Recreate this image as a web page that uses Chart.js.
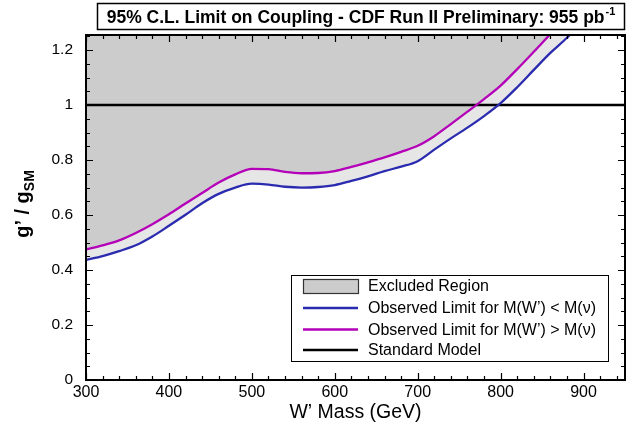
<!DOCTYPE html>
<html><head><meta charset="utf-8">
<script src="https://cdn.jsdelivr.net/npm/chart.js@4"></script>
<style>html,body{margin:0;padding:0;background:#fff;}#wrap{width:632px;height:427px;}</style>
</head><body><div id="wrap"><canvas id="c" width="632" height="427"></canvas></div>
<script>
// ---- data ----
const massGeV = [300,320,340,360,380,400,420,440,460,480,500,520,540,560,580,600,620,640,660,680,700,720,740,760,780,800,820,840,860,880,900];
// Observed limit for M(W') > M(nu)  (magenta)
const limitHeavyW = [0.475,0.490,0.508,0.535,0.567,0.603,0.642,0.680,0.718,0.748,0.768,0.767,0.757,0.752,0.753,0.760,0.775,0.792,0.810,0.830,0.852,0.887,0.931,0.976,1.022,1.071,1.131,1.194,1.258,1.32,1.39];
// Observed limit for M(W') < M(nu)  (blue)
const limitLightW = [0.437,0.451,0.469,0.490,0.522,0.561,0.601,0.643,0.677,0.700,0.714,0.711,0.703,0.700,0.702,0.709,0.724,0.741,0.760,0.776,0.796,0.838,0.879,0.918,0.960,1.007,1.065,1.128,1.190,1.245,1.31];
const smMass = [300, 950];
const smCoupling = [1, 1];
const xTickValues = [300,400,500,600,700,800,900];
const xTickLabels = ['300','400','500','600','700','800','900'];
const yTickValues = [0,0.2,0.4,0.6,0.8,1,1.2];
const yTickLabels = ['0','0.2','0.4','0.6','0.8','1','1.2'];
const titleText = "95% C.L. Limit on Coupling - CDF Run II Preliminary: 955 pb";
const titleSup = "-1";
const legendLabels = ["Excluded Region","Observed Limit for M(W\u2019) < M(\u03bd)","Observed Limit for M(W\u2019) > M(\u03bd)","Standard Model"];

const BLUE = '#2b2bb0', MAG = '#b400b8', GRAY = '#cccccc', LIGHT = '#e6e6e6';
const FONT = '"Liberation Sans", Arial, Helvetica, sans-serif';

const pts = (xs, ys) => xs.map((v, i) => ({x: v, y: ys[i]}));

const decor = {
  id: 'decor',
  afterDraw(chart) {
    const {ctx, chartArea: a, scales: {x, y}} = chart;
    ctx.save();
    // minor/major inward ticks on all four sides
    ctx.strokeStyle = '#000'; ctx.lineWidth = 1.2;
    ctx.beginPath();
    for (let v = 300; v <= 950; v += 20) {
      const px = Math.round(x.getPixelForValue(v)) + 0.5;
      const len = ((v - 300) % 100 === 0) ? 7 : 4;
      ctx.moveTo(px, a.bottom); ctx.lineTo(px, a.bottom - len);
      ctx.moveTo(px, a.top); ctx.lineTo(px, a.top + len);
    }
    for (let i = 0; i <= 25; i++) {
      const py = Math.round(y.getPixelForValue(i * 0.05)) + 0.5;
      const len = (i % 4 === 0) ? 7 : 4;
      ctx.moveTo(a.left, py); ctx.lineTo(a.left + len, py);
      ctx.moveTo(a.right, py); ctx.lineTo(a.right - len, py);
    }
    ctx.stroke();
    // frame
    ctx.lineWidth = 2;
    ctx.strokeRect(a.left, a.top, a.right - a.left, a.bottom - a.top);

    // title box
    ctx.fillStyle = '#fff'; ctx.lineWidth = 1.5;
    ctx.fillRect(97.5, 3.5, 527, 26);
    ctx.strokeRect(97.5, 3.5, 527, 26);
    ctx.fillStyle = '#000';
    ctx.font = 'bold 17.5px ' + FONT;
    const tw = ctx.measureText(titleText).width;
    ctx.font = 'bold 11px ' + FONT;
    const sw = ctx.measureText(titleSup).width;
    const tx = 97.5 + 527 / 2 - (tw + sw + 1) / 2;
    ctx.textBaseline = 'alphabetic'; ctx.textAlign = 'left';
    ctx.font = 'bold 17.5px ' + FONT;
    ctx.fillText(titleText, tx, 23);
    ctx.font = 'bold 11px ' + FONT;
    ctx.fillText(titleSup, tx + tw + 1, 15);

    // y-axis title with subscript
    ctx.save();
    ctx.translate(29, 204);
    ctx.rotate(-Math.PI / 2);
    ctx.font = 'bold 20px ' + FONT;
    const m1 = 'g\u2019 / g';
    const w1 = ctx.measureText(m1).width;
    ctx.font = 'bold 14px ' + FONT;
    const w2 = ctx.measureText('SM').width;
    const sx = -(w1 + w2) / 2;
    ctx.font = 'bold 20px ' + FONT;
    ctx.fillText(m1, sx, 0);
    ctx.font = 'bold 14px ' + FONT;
    ctx.fillText('SM', sx + w1, 5);
    ctx.restore();

    // legend
    const L = {x: 291.5, y: 275.5, w: 317, h: 86};
    ctx.fillStyle = '#fff'; ctx.fillRect(L.x, L.y, L.w, L.h);
    ctx.lineWidth = 1; ctx.strokeStyle = '#000'; ctx.strokeRect(L.x, L.y, L.w, L.h);
    const rows = [286, 308, 329.5, 350];
    ctx.fillStyle = GRAY; ctx.fillRect(303.5, 279.5, 55, 14);
    ctx.strokeStyle = '#333'; ctx.lineWidth = 1.2; ctx.strokeRect(303.5, 279.5, 55, 14);
    const lc = [BLUE, MAG, '#000'];
    for (let i = 0; i < 3; i++) {
      ctx.strokeStyle = lc[i]; ctx.lineWidth = 2.5;
      ctx.beginPath(); ctx.moveTo(303, rows[i + 1]); ctx.lineTo(358, rows[i + 1]); ctx.stroke();
    }
    ctx.fillStyle = '#000'; ctx.font = '16px ' + FONT; ctx.textBaseline = 'middle';
    legendLabels.forEach((t, i) => ctx.fillText(t, 368, rows[i] + 1));
    ctx.restore();
  }
};

new Chart(document.getElementById('c'), {
  type: 'line',
  data: {
    datasets: [
      {label: legendLabels[2], data: pts(massGeV, limitHeavyW), borderColor: MAG, borderWidth: 2.3,
       backgroundColor: GRAY, fill: 'end', pointRadius: 0, cubicInterpolationMode: 'monotone', clip: 0},
      {label: legendLabels[1], data: pts(massGeV, limitLightW), borderColor: BLUE, borderWidth: 2.3,
       backgroundColor: LIGHT, fill: 0, pointRadius: 0, cubicInterpolationMode: 'monotone', clip: 0},
      {label: legendLabels[3], data: pts(smMass, smCoupling), borderColor: '#000', borderWidth: 2.5,
       fill: false, pointRadius: 0, clip: 0}
    ]
  },
  options: {
    responsive: false, animation: false, devicePixelRatio: 1, events: [],
    layout: {padding: {top: 35, right: 7, left: 0, bottom: 0}},
    plugins: {legend: {display: false}, title: {display: false}, tooltip: {enabled: false},
              filler: {drawTime: 'beforeDatasetsDraw'}},
    scales: {
      x: {type: 'linear', min: 300, max: 950,
          afterFit: s => { s.height = 47; },
          afterBuildTicks: s => { s.ticks = xTickValues.map(v => ({value: v})); },
          grid: {display: false, drawTicks: false}, border: {display: false},
          ticks: {color: '#000', font: {family: FONT, size: 16}, padding: 3, maxRotation: 0, autoSkip: false,
                  callback: (v, i) => xTickLabels[i]},
          title: {display: true, text: 'W\u2019 Mass (GeV)', color: '#000', font: {family: FONT, size: 19.5}, padding: {top: 0, bottom: 3}}},
      y: {type: 'linear', min: 0, max: 1.255,
          afterFit: s => { s.width = 86; },
          afterBuildTicks: s => { s.ticks = yTickValues.map(v => ({value: v})); },
          grid: {display: false, drawTicks: false}, border: {display: false},
          ticks: {color: '#000', font: {family: FONT, size: 15.5}, padding: 13, autoSkip: false,
                  callback: (v, i) => yTickLabels[i]}}
    }
  },
  plugins: [decor]
});
</script></body></html>
